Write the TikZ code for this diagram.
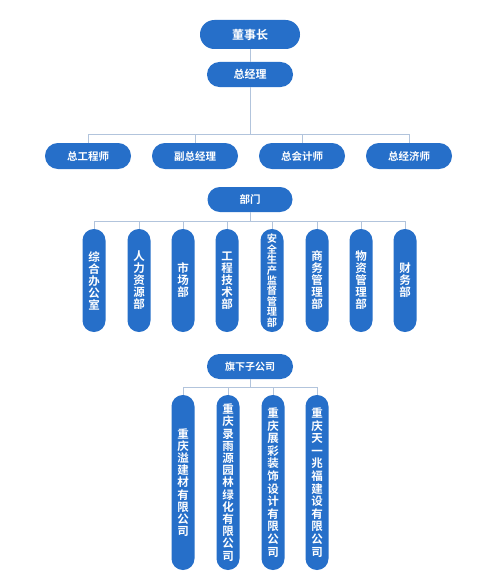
\documentclass[tikz,border=0pt]{standalone}
\usepackage{fontspec}
\setmainfont{Noto Sans CJK SC}[BoldFont={Noto Sans CJK SC Bold}]
\newcommand\tightls{\lineskiplimit-5pt\relax}
\definecolor{pillblue}{RGB}{38,111,201}
\definecolor{conn}{RGB}{178,196,220}
\tikzset{
  hpill/.style={rectangle, fill=pillblue, text=white, inner sep=0pt,
    minimum width=86pt, minimum height=26pt, rounded corners=12.9pt,
    font={\fontsize{10.5}{12}\selectfont\bfseries}},
  vpill/.style={rectangle, fill=pillblue, text=white, inner sep=0pt,
    minimum width=23pt, rounded corners=11.4pt, align=center,
    font={\fontsize{11.5}{12}\selectfont\bfseries\tightls}},
  link/.style={draw=conn, line width=0.9pt}
}
\begin{document}
\begin{tikzpicture}[x=1pt, y=-1pt]
\useasboundingbox[fill=white] (0,0) rectangle (500,578);
% top
\node[hpill, minimum width=100pt, minimum height=29pt, rounded corners=14.4pt,
  font={\fontsize{12}{14}\selectfont\bfseries}] (dsz) at (250,34.5) {董事长};
\node[hpill, minimum height=25pt, rounded corners=12.4pt,
  font={\fontsize{11}{13}\selectfont\bfseries}] (zjl) at (250,74.5) {总经理};
\node[hpill] (m1) at (88,156) {总工程师};
\node[hpill] (m2) at (195,156) {副总经理};
\node[hpill] (m3) at (302,156) {总会计师};
\node[hpill] (m4) at (409,156) {总经济师};
\coordinate (b1) at (250,134);
\draw[link] (dsz) -- (zjl);
\draw[link] (zjl.south) -- (b1);
\foreach \n in {m1,m2,m3,m4} \draw[link] (b1) -| (\n.north);
% departments
\node[hpill, minimum width=85pt, minimum height=25pt, rounded corners=12.4pt] (bm) at (250,199.5) {部门};
\coordinate (b2) at (250,221);
\draw[link] (bm.south) -- (b2);
\node[vpill, minimum height=103pt] (d1) at (94,280.5) {综\\合\\办\\公\\室};
\node[vpill, minimum height=103pt] (d2) at (139,280.5) {人\\力\\资\\源\\部};
\node[vpill, minimum height=103pt] (d3) at (183,280.5) {市\\场\\部};
\node[vpill, minimum height=103pt] (d4) at (227,280.5) {工\\程\\技\\术\\部};
\node[vpill, minimum height=103pt, font={\fontsize{10.2}{10.4}\selectfont\bfseries\tightls}] (d5) at (272,280.5) {安\\全\\生\\产\\监\\督\\管\\理\\部};
\node[vpill, minimum height=103pt] (d6) at (317,280.5) {商\\务\\管\\理\\部};
\node[vpill, minimum height=103pt] (d7) at (361,280.5) {物\\资\\管\\理\\部};
\node[vpill, minimum height=103pt] (d8) at (405,280.5) {财\\务\\部};
\foreach \n in {d1,d2,d3,d4,d5,d6,d7,d8} \draw[link] (b2) -| (\n.north);
% companies
\node[hpill, minimum height=25pt, rounded corners=12.4pt,
  font={\fontsize{10}{12}\selectfont\bfseries}] (qx) at (250,366.5) {旗下子公司};
\coordinate (b3) at (250,387);
\draw[link] (qx.south) -- (b3);
\node[vpill, minimum height=175pt, font={\fontsize{11.5}{12.2}\selectfont\bfseries\tightls}] (c1) at (183,482.5) {重\\庆\\溢\\建\\材\\有\\限\\公\\司};
\node[vpill, minimum height=175pt, font={\fontsize{11.5}{12.2}\selectfont\bfseries\tightls}] (c2) at (228,482.5) {重\\庆\\录\\雨\\源\\园\\林\\绿\\化\\有\\限\\公\\司};
\node[vpill, minimum height=175pt, font={\fontsize{11.5}{12.6}\selectfont\bfseries\tightls}] (c3) at (273,482.5) {重\\庆\\展\\彩\\装\\饰\\设\\计\\有\\限\\公\\司};
\node[vpill, minimum height=175pt, font={\fontsize{11.5}{12.6}\selectfont\bfseries\tightls}] (c4) at (317,482.5) {重\\庆\\天\\一\\兆\\福\\建\\设\\有\\限\\公\\司};
\foreach \n in {c1,c2,c3,c4} \draw[link] (b3) -| (\n.north);
\end{tikzpicture}
\end{document}
